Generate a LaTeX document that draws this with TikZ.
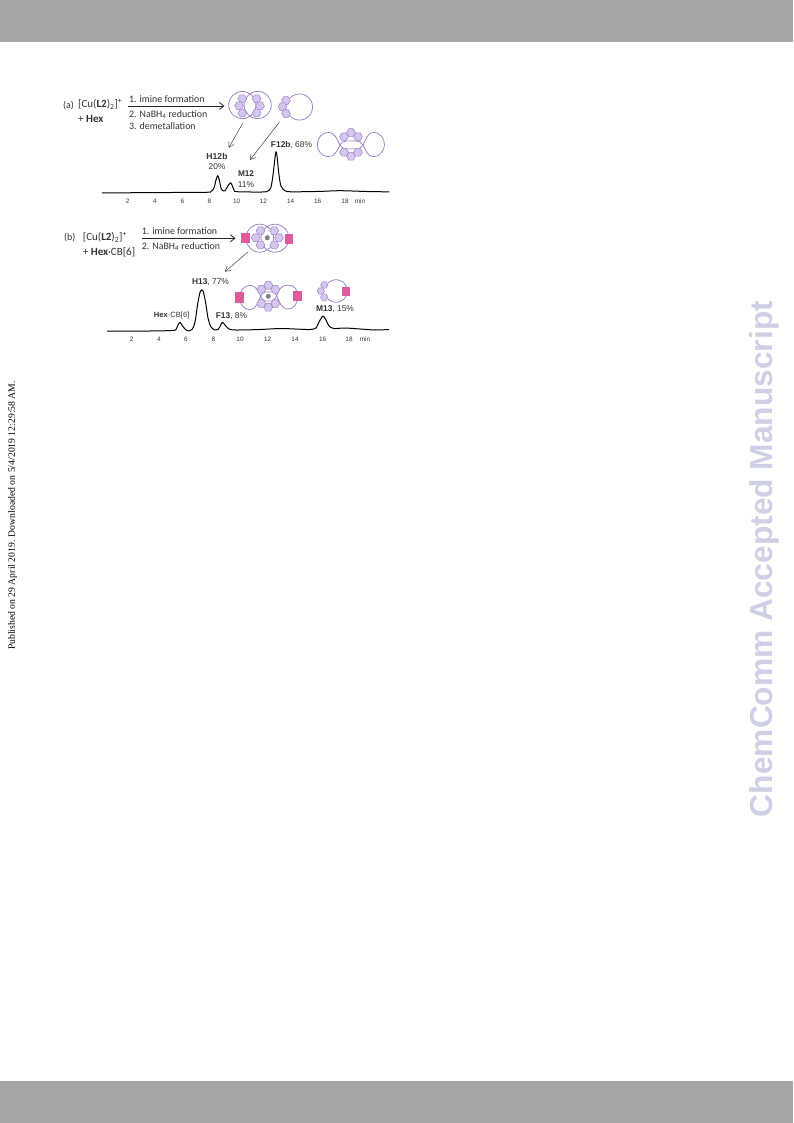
\documentclass[tikz,border=0pt]{standalone}
\usepackage{fontspec}
\setmainfont{Carlito}
\newfontfamily\arialf{Liberation Sans}
\newfontfamily\timesf{Liberation Serif}
\usetikzlibrary{arrows.meta}
\definecolor{band}{HTML}{A5A5A5}
\definecolor{wm}{HTML}{CFCFE6}
\definecolor{ring}{HTML}{9B84C8}
\definecolor{hexfill}{HTML}{D4C6EE}
\definecolor{cbpink}{HTML}{DE5A9A}
\definecolor{txt}{HTML}{333333}
\tikzset{
 lab/.style={font=\fontsize{9.9}{12}\selectfont,text=txt,inner sep=0pt,anchor=west},
 formula/.style={font=\fontsize{11}{13}\selectfont,text=txt,inner sep=0pt,anchor=west},
 peak/.style={font=\arialf\fontsize{8.4}{10}\selectfont,text=txt,inner sep=0pt},
 ticklab/.style={font=\arialf\fontsize{6.4}{8}\selectfont,text=txt,inner sep=0pt},
 rxn/.style={-{Straight Barb[length=4.5pt,width=7pt]},line width=.8pt,draw=black!85},
 thin arrow/.style={-{Straight Barb[length=5pt,width=6pt]},line width=.5pt,draw=black!75},
 trace/.style={line width=1pt,draw=black,line join=round},
 ringline/.style={draw=ring,line width=.8pt},
 pinkbox/.style={fill=cbpink,draw=none}
}
\newcommand{\hexa}[3]{% x y r
 \draw[ring,fill=hexfill,line width=.5pt] (#1+#3,#2) -- (#1+.5*#3,#2+.866*#3) -- (#1-.5*#3,#2+.866*#3) -- (#1-#3,#2) -- (#1-.5*#3,#2-.866*#3) -- (#1+.5*#3,#2-.866*#3) -- cycle;}
\newcommand{\openring}[5]{% cx cy r from to
 \draw[ringline,domain=#4:#5,samples=60,smooth,variable=\t] plot ({#1+#3*cos(\t)},{#2+#3*sin(\t)});}
\begin{document}
\begin{tikzpicture}[x=1pt,y=-1pt]
\useasboundingbox (0,0) rectangle (793,1123);
\fill[band] (0,0) rectangle (793,42);
\fill[band] (0,1081) rectangle (793,1123);
% watermark + side
\node[rotate=90,font=\arialf\bfseries\fontsize{31.7}{33}\selectfont,text=wm,inner sep=0pt] (wmark) at (764,559) {ChemComm Accepted Manuscript};
\node[rotate=90,font=\timesf\fontsize{9.7}{11}\selectfont,text=black,inner sep=0pt] (pub) at (12.5,515.5) {Published on 29 April 2019. Downloaded on 5/4/2019 12:29:58 AM.};
% ---- panel a
\node[lab] (pa) at (63,106) {(a)};
\node[formula] (a1) at (78,104.5) {[Cu(\textbf{L2})\textsubscript{2}]\textsuperscript{+}};
\node[formula] (a2) at (78,119) {+ \textbf{Hex}};
\node[lab] (s1) at (129,99.5) {1. imine formation};
\node[lab] (s2) at (129,114.5) {2. NaBH\textsubscript{4} reduction};
\node[lab] (s3) at (129,126) {3. demetallation};
\coordinate (aS) at (128.3,106);
\coordinate (aE) at (224.5,106);
\draw[rxn] (aS) -- (aE);
% H12b cartoon
\draw[ringline] (242.3,105) circle (13.6);
\draw[ringline] (257.7,105) circle (13.6);
\foreach \x/\y in {242.3/98.7,239/105.8,242.3/113,256.7/98.7,260/105.8,256.7/113}{\hexa{\x}{\y}{4.4}}
% M12 cartoon
\openring{299.5}{107}{13}{-150}{150}
\foreach \x/\y in {286/100.5,282.5/106.7,286/113.5}{\hexa{\x}{\y}{4.4}}
% F12b cartoon
\draw[ringline] (346,149) .. controls (343,149) and (341.5,147) .. (340,145) .. controls (337,139) and (334.5,132.3) .. (328.5,132.3) .. controls (322,132.3) and (317.3,138) .. (317.3,144.5) .. controls (317.3,151) and (322,156.7) .. (328.5,156.7) .. controls (334.5,156.7) and (337,151) .. (340,145) .. controls (341.5,143) and (343,141) .. (346,141) -- (357,141) .. controls (360,141) and (361.5,143) .. (363,145) .. controls (366,151) and (368,156.7) .. (373.5,156.7) .. controls (379.5,156.7) and (384.5,151) .. (384.5,144.5) .. controls (384.5,138) and (379.5,132.3) .. (373.5,132.3) .. controls (368,132.3) and (366,139) .. (363,145) .. controls (361.5,147) and (360,149) .. (357,149) -- cycle;
\foreach \x/\y in {351/132.5,344/136.7,358/136.7,344/152.3,351/156.2,358/152.3}{\hexa{\x}{\y}{4.4}}
% arrows
\coordinate (a3s) at (242.7,123.3);\coordinate (a3e) at (228.7,147.7);
\draw[thin arrow] (a3s) -- (a3e);
\coordinate (a4s) at (279.3,122.3);\coordinate (a4e) at (250,160);
\draw[thin arrow] (a4s) -- (a4e);
% labels
\node[peak,font=\arialf\bfseries\fontsize{8.6}{10}\selectfont] (h12) at (217,156) {H12b};
\node[peak] (h12p) at (217,166.5) {20\%};
\node[peak,font=\arialf\bfseries\fontsize{8.2}{10}\selectfont] (m12) at (246,174) {M12};
\node[peak] (m12p) at (246,184.2) {11\%};
\node[peak] (f12) at (291.5,145) {\textbf{F12b}, 68\%};
% trace a
\draw[trace] plot[smooth,tension=.5] coordinates {(102,193) (150,192.6) (205,192.3) (211,191.5) (214,188) (216,180) (217.7,175.7) (219.3,180) (221,188) (223,190.8) (225,190.8) (227,187.5) (230.3,182.7) (232,185) (234,190) (237,191.7) (262,192) (268,191) (271,187) (273,175) (275,158) (276,151.7) (277,156) (279,175) (281,186) (285,190.8) (292,191.8) (320,191.4) (340,190.7) (370,191.6) (389.3,191.8)};
\foreach \x/\l in {127.7/2,155/4,182.3/6,209.3/8,236.7/10,263.3/12,290.7/14,317.7/16,345/18}
 \node[ticklab] (ta\l) at (\x,201.5) {\l};
\node[ticklab] (tamin) at (360,201.5) {min};
% ---- panel b
\node[lab] (pb) at (64,238) {(b)};
\node[formula] (b1) at (82.7,237.5) {[Cu(\textbf{L2})\textsubscript{2}]\textsuperscript{+}};
\node[formula] (b2) at (82.7,252) {+ \textbf{Hex}·CB[6]};
\node[lab] (t1) at (141.7,231) {1. imine formation};
\node[lab] (t2) at (141.7,246.5) {2. NaBH\textsubscript{4} reduction};
\coordinate (bS) at (141.5,238.3);\coordinate (bE) at (235.5,238.3);
\draw[rxn] (bS) -- (bE);
% H13 cartoon
\draw[ringline] (259.7,238.2) circle (14);
\draw[ringline] (275,238.2) circle (14);
\foreach \x/\y in {260.5/230.7,255.8/237.7,260.5/245,274.3/230.7,279/237.7,274.3/245}{\hexa{\x}{\y}{4.4}}
\fill[gray] (267.3,237.7) circle (2.5);
\fill[pinkbox] (241,232.7) rectangle (250,243.3);
\fill[pinkbox] (284.7,233.7) rectangle (293.3,243.7);
\coordinate (a5s) at (248.3,251.7);\coordinate (a5e) at (225,271.7);
\draw[thin arrow] (a5s) -- (a5e);
% F13 cartoon
\draw[ringline] (265,301) .. controls (263,301) and (262,298) .. (260.7,296.3) .. controls (258,291) and (256,285.3) .. (250,285.3) .. controls (244,285.3) and (239.5,291) .. (239.5,297.5) .. controls (239.5,304) and (244,309.7) .. (250,309.7) .. controls (256,309.7) and (258,302) .. (260.7,296.3) .. controls (262,294) and (263,292) .. (265,292) -- (272,292) .. controls (274,292) and (275.5,293.5) .. (276.7,295.5) .. controls (279,301) and (281,309) .. (288,309) .. controls (294,309) and (298,303) .. (298,296.5) .. controls (298,290) and (294,285) .. (288,285) .. controls (281,285) and (279,290) .. (276.7,295.5) .. controls (275.5,298) and (274,301) .. (272,301) -- cycle;
\foreach \x/\y in {268.3/285.3,261.3/289.3,275.3/289.3,261.3/303.5,268.3/307.3,275.3/303.5}{\hexa{\x}{\y}{4.4}}
\fill[gray] (268.3,296.3) circle (2.5);
\fill[pinkbox] (235,292) rectangle (243.5,302.5);
\fill[pinkbox] (293,290.8) rectangle (302,301.2);
% M13 cartoon
\openring{336}{291}{11.2}{-135}{135}
\foreach \x/\y in {324.3/285,320.8/291,324.3/297.2}{\hexa{\x}{\y}{3.7}}
\fill[pinkbox] (341.7,286.7) rectangle (349.5,296);
% labels
\node[peak] (h13) at (210.5,282.2) {\textbf{H13}, 77\%};
\node[peak,font=\arialf\fontsize{7.6}{9}\selectfont] (hexcb) at (171.7,315.8) {\textbf{Hex}·CB[6]};
\node[peak] (f13) at (231.5,316) {\textbf{F13}, 8\%};
\node[peak] (m13) at (335,309.3) {\textbf{M13}, 15\%};
% trace b
\draw[trace] plot[smooth,tension=.5] coordinates {(107,331) (150,331) (172,330.5) (176,329.5) (178,325) (180,322.3) (182.5,326) (186,330) (189,331) (192,329.5) (195,322) (198,302) (200.5,291) (203,291) (205.5,302) (208,318) (211,327) (215,330) (218,329.5) (220,326.5) (222.3,322.3) (225,325) (229,329) (236,330) (260,329.5) (280,328.5) (295,329) (310,329.5) (316,328) (319,322) (323,316) (326,320) (329,326) (334,328.5) (345,328) (360,329) (375,330) (389,329.5)};
\foreach \x/\l in {131.7/2,159/4,186/6,213.3/8,240/10,267.7/12,295/14,322.7/16,349/18}
 \node[ticklab] (tb\l) at (\x,339.3) {\l};
\node[ticklab] (tbmin) at (365,339.3) {min};
\end{tikzpicture}
\end{document}
